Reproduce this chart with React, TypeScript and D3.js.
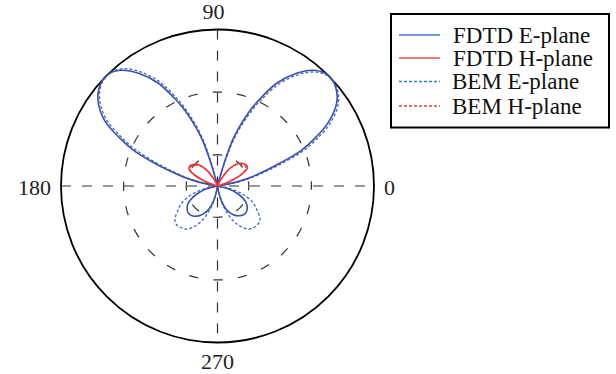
import React from 'react';
import * as d3 from 'd3';

// Canvas and polar frame
const W = 616;
const H = 374;
const CX = 217.5;
const CY = 186;
const R = 156.5;

// Angular tick labels (degrees)
const angleTicks = [0, 90, 180, 270];
// Dashed reference rings (normalised radius)
const ringLevels = [0.2, 0.6];

// Normalised radiation patterns: [angle in degrees, magnitude]
const eFdtd: [number, number][] = [
  [0, 0], [9, 0], [11, 0.08], [13, 0.16], [15, 0.23], [18, 0.33], [20, 0.42], [23, 0.58], [26, 0.69],
  [30, 0.82], [35, 0.93], [40, 0.985], [45, 1.0], [50, 0.965], [55, 0.88], [60, 0.76], [64, 0.62],
  [66, 0.55], [68, 0.47], [70, 0.39], [72, 0.3], [73, 0.22], [74, 0.14], [75, 0.06], [76, 0],
  [104, 0], [105, 0.06], [106, 0.14], [107, 0.22], [108, 0.3], [110, 0.39], [112, 0.47], [114, 0.55],
  [116, 0.62], [120, 0.76], [125, 0.88], [130, 0.965], [135, 1.0], [140, 0.985], [145, 0.93],
  [150, 0.83], [154, 0.69], [157, 0.58], [160, 0.43], [162, 0.34], [165, 0.23], [167, 0.16],
  [169, 0.08], [171, 0],
  [188, 0], [195, 0.08], [200, 0.13], [205, 0.176], [212, 0.225], [220, 0.25], [225, 0.255],
  [232, 0.245], [240, 0.215], [245, 0.19], [250, 0.155], [255, 0.1], [260, 0.03], [263, 0],
  [277, 0], [280, 0.03], [285, 0.1], [290, 0.155], [295, 0.19], [300, 0.215], [308, 0.24],
  [314, 0.25], [320, 0.245], [328, 0.22], [335, 0.176], [340, 0.13], [345, 0.08], [352, 0], [360, 0],
];

const hFdtd: [number, number][] = [
  [0, 0], [12, 0], [16, 0.02], [19, 0.06], [22, 0.11], [25, 0.16], [28, 0.2], [31, 0.222], [35, 0.228],
  [40, 0.222], [45, 0.205], [50, 0.18], [55, 0.135], [58, 0.1], [61, 0.065], [65, 0.03], [70, 0.01],
  [75, 0],
  [105, 0], [110, 0.01], [115, 0.03], [119, 0.062], [122, 0.095], [125, 0.13], [130, 0.172],
  [135, 0.195], [140, 0.212], [145, 0.218], [149, 0.213], [152, 0.192], [155, 0.155], [158, 0.105],
  [161, 0.06], [164, 0.02], [168, 0], [360, 0],
];

const eBem: [number, number][] = [
  [0, 0], [8, 0], [10, 0.08], [12, 0.16], [14, 0.23], [17, 0.33], [19, 0.42], [22, 0.58], [25, 0.69],
  [29, 0.82], [34, 0.93], [39, 0.985], [44, 1.0], [49, 0.965], [54, 0.88], [59, 0.76], [63, 0.62],
  [65, 0.55], [67, 0.47], [69, 0.39], [71, 0.3], [72, 0.22], [73, 0.14], [74, 0.06], [75, 0],
  [103, 0], [104, 0.06], [105, 0.14], [106, 0.22], [107, 0.3], [109, 0.39], [111, 0.47], [113, 0.55],
  [115, 0.62], [119, 0.76], [124, 0.88], [129, 0.965], [134, 1.0], [139, 0.985], [144, 0.93],
  [149, 0.83], [153, 0.69], [156, 0.58], [159, 0.43], [161, 0.34], [164, 0.23], [166, 0.16],
  [168, 0.08], [170, 0],
  [186, 0], [192, 0.08], [198, 0.17], [205, 0.25], [212, 0.3], [218, 0.345], [223, 0.36],
  [228, 0.355], [234, 0.34], [240, 0.3], [246, 0.24], [252, 0.16], [258, 0.07], [263, 0],
  [277, 0], [282, 0.07], [288, 0.16], [294, 0.24], [300, 0.3], [306, 0.34], [311, 0.352],
  [316, 0.356], [322, 0.345], [328, 0.3], [335, 0.25], [342, 0.17], [348, 0.08], [354, 0], [360, 0],
];

const hBem: [number, number][] = [
  [0, 0], [12, 0], [16, 0.019], [19, 0.058], [22, 0.105], [25, 0.153], [28, 0.192], [31, 0.213],
  [35, 0.219], [40, 0.213], [45, 0.197], [50, 0.173], [55, 0.13], [58, 0.096], [61, 0.062],
  [65, 0.029], [70, 0.01], [75, 0],
  [105, 0], [110, 0.01], [115, 0.029], [119, 0.06], [122, 0.091], [125, 0.125], [130, 0.165],
  [135, 0.187], [140, 0.204], [145, 0.209], [149, 0.204], [152, 0.184], [155, 0.149], [158, 0.1],
  [161, 0.058], [164, 0.019], [168, 0], [360, 0],
];

const seriesNames = ['FDTD E-plane', 'FDTD H-plane', 'BEM E-plane', 'BEM H-plane'];
const seriesData = [eFdtd, hFdtd, eBem, hBem];
const seriesColors = ['#3a52a8', '#ef3535', '#4668c4', '#ef3a3a'];
const seriesDash = [null, null, '3 2', '3 2'];
const legendColors = ['#3d7dc6', '#ef4a4a', '#2f7fd0', '#ef3a3a'];

const FONT = '"Liberation Serif", "Times New Roman", serif';

export default function App() {
  const rScale = d3.scaleLinear().domain([0, 1]).range([0, R]);

  const radial = d3
    .lineRadial<[number, number]>()
    .angle((d) => ((90 - d[0]) * Math.PI) / 180)
    .radius((d) => rScale(d[1]))
    .curve(d3.curveCatmullRom.alpha(0.5));

  // Ring drawn as a full circle starting at 0°, dash pattern fitted so a dash is centred on each axis
  const ringPath = (r: number) =>
    `M${CX + r},${CY}A${r},${r} 0 1 0 ${CX - r},${CY}A${r},${r} 0 1 0 ${CX + r},${CY}`;
  const ringDash = (r: number) => {
    const quarter = (Math.PI * r) / 2;
    const n = Math.max(1, Math.round(quarter / 24.6));
    const p = quarter / n;
    const dash = 9.5;
    return { dasharray: `${dash} ${p - dash}`, offset: dash / 2 };
  };

  const labelPos = (a: number) => {
    const rad = (a * Math.PI) / 180;
    return { x: CX + (R + 16) * Math.cos(rad), y: CY - (R + 16) * Math.sin(rad) };
  };

  const legendRows = [35, 58, 81.5, 106];

  return (
    <svg
      width={W}
      height={H}
      style={{ position: 'absolute', left: 0, top: 0, background: '#fff' }}
      fontFamily={FONT}
    >
      {/* axes */}
      <line x1={CX - R} y1={CY} x2={CX + R} y2={CY} stroke="#333" strokeWidth={1.2} strokeDasharray="10 11" />
      <line x1={CX} y1={CY - R} x2={CX} y2={CY + R} stroke="#333" strokeWidth={1.2} strokeDasharray="10 11" />

      {/* rings */}
      {ringLevels.map((lv) => {
        const r = rScale(lv);
        const d = ringDash(r);
        return (
          <path
            key={lv}
            d={ringPath(r)}
            fill="none"
            stroke="#333"
            strokeWidth={1.2}
            strokeDasharray={d.dasharray}
            strokeDashoffset={d.offset}
          />
        );
      })}

      {/* outer boundary */}
      <circle cx={CX} cy={CY} r={R} fill="none" stroke="#000" strokeWidth={1.8} />

      {/* patterns */}
      <g transform={`translate(${CX},${CY})`}>
        {[2, 3, 0, 1].map((i) => (
          <path
            key={seriesNames[i]}
            d={radial(seriesData[i]) || ''}
            fill="none"
            stroke={seriesColors[i]}
            strokeWidth={i < 2 ? 1.6 : 1.3}
            strokeDasharray={seriesDash[i] || undefined}
            strokeLinejoin="round"
          />
        ))}
      </g>

      {/* angle labels */}
      {angleTicks.map((a) => {
        const p = labelPos(a);
        const anchor = a === 0 ? 'start' : a === 180 ? 'end' : 'middle';
        const dx = a === 0 ? -6 : a === 180 ? 6 : a === 90 ? -4 : 0;
        const dy = a === 90 ? -2 : a === 270 ? 3 : 1;
        return (
          <text
            key={a}
            x={p.x + dx}
            y={p.y + dy}
            textAnchor={anchor}
            dominantBaseline="central"
            fontSize={22}
            fill="#222"
          >
            {a}
          </text>
        );
      })}

      {/* legend */}
      <rect x={391} y={14} width={218} height={113.5} fill="#fff" stroke="#000" strokeWidth={2} />
      {seriesNames.map((name, i) => (
        <g key={name}>
          <line
            x1={399}
            x2={440}
            y1={legendRows[i]}
            y2={legendRows[i]}
            stroke={legendColors[i]}
            strokeWidth={1.5}
            strokeDasharray={seriesDash[i] || undefined}
          />
          <text x={i < 2 ? 453 : 452} y={legendRows[i] + 7.5} fontSize={23} fill="#111">
            {name}
          </text>
        </g>
      ))}
    </svg>
  );
}
